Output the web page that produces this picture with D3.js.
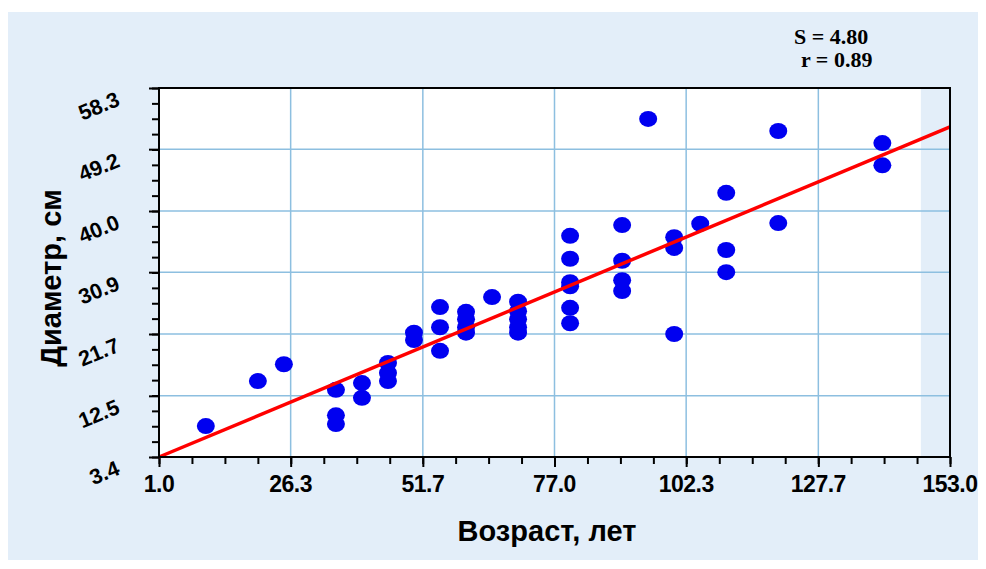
<!DOCTYPE html>
<html>
<head>
<meta charset="utf-8">
<script src="https://cdn.jsdelivr.net/npm/d3@7"></script>
<style>
  body { margin: 0; background: #fff; }
  svg { display: block; }
</style>
</head>
<body>
<svg id="chart" width="986" height="569"></svg>
<script>
const ages = [10, 20, 25, 35, 35, 35, 40, 40, 45, 45, 45, 50, 50, 55, 55, 55,
  60, 60, 60, 60, 65, 70, 70, 70, 70, 70, 80, 80, 80, 80, 80, 80,
  90, 90, 90, 90, 95, 100, 100, 100, 105, 110, 110, 110, 120, 120, 140, 140]
const diameters = [8.0, 14.7, 17.2, 13.4, 9.6, 8.3, 14.4, 12.2, 17.4, 15.9, 14.7, 21.9, 20.8, 25.7, 22.7, 19.2,
  25.0, 23.9, 22.7, 21.9, 27.2, 26.5, 25.1, 23.9, 22.7, 21.9, 36.3, 32.9, 29.4, 28.8, 25.6, 23.3,
  37.9, 32.6, 29.7, 28.1, 53.7, 36.1, 34.5, 21.7, 38.1, 42.7, 34.2, 30.9, 51.9, 38.2, 50.1, 46.8]

const fitX = [1.0, 153.0]
const fitY = [3.4, 52.5]

const xTickLabels = ['1.0', '26.3', '51.7', '77.0', '102.3', '127.7', '153.0']
const yTickLabels = ['3.4', '12.5', '21.7', '30.9', '40.0', '49.2', '58.3']
const stats = ['S = 4.80', 'r = 0.89']

const plotLeft = 159, plotRight = 950, plotTop = 88, plotBottom = 457

const xscale = d3.scaleLinear().domain([1.0, 153.0]).range([plotLeft, plotRight])
const yscale = d3.scaleLinear().domain([3.4, 58.3]).range([plotBottom, plotTop])

const xMajor = xTickLabels.map(Number)
const yMajor = yTickLabels.map(Number)
const xMinor = d3.range(25).map((i) => 1.0 + i * 152 / 24)
const yMinor = d3.range(25).map((i) => 3.4 + i * 54.9 / 24)

const svg = d3.select('#chart')

// background panel
svg.append('rect')
  .attr('x', 8).attr('y', 12)
  .attr('width', 970).attr('height', 548)
  .attr('fill', '#e3eef9')

// white plot area (stops short of the right edge like the original)
svg.append('rect')
  .attr('x', plotLeft).attr('y', plotTop)
  .attr('width', xscale(147.4) - plotLeft).attr('height', plotBottom - plotTop)
  .attr('fill', '#fff')

// grid
const grid = svg.append('g').attr('stroke', '#8dbfe0').attr('stroke-width', 1.5)
grid.selectAll('.vx')
  .data(xMajor.slice(1, -1))
  .enter().append('line')
  .attr('x1', (d) => xscale(d)).attr('x2', (d) => xscale(d))
  .attr('y1', plotTop).attr('y2', plotBottom)
grid.selectAll('.hy')
  .data(yMajor.slice(1, -1))
  .enter().append('line')
  .attr('x1', plotLeft).attr('x2', plotRight)
  .attr('y1', (d) => yscale(d)).attr('y2', (d) => yscale(d))

// ticks
const minorX = d3.axisBottom(xscale).tickValues(xMinor).tickSize(7).tickFormat('')
const majorX = d3.axisBottom(xscale).tickValues(xMajor).tickSize(10).tickFormat('')
const minorY = d3.axisLeft(yscale).tickValues(yMinor).tickSize(7).tickFormat('')
const majorY = d3.axisLeft(yscale).tickValues(yMajor).tickSize(10).tickFormat('')

for (const ax of [minorX, majorX]) {
  svg.append('g')
    .attr('transform', `translate(0, ${plotBottom})`)
    .call(ax)
    .call((g) => g.select('.domain').remove())
    .selectAll('line').attr('stroke', '#000').attr('stroke-width', 2)
}
for (const ax of [minorY, majorY]) {
  svg.append('g')
    .attr('transform', `translate(${plotLeft}, 0)`)
    .call(ax)
    .call((g) => g.select('.domain').remove())
    .selectAll('line').attr('stroke', '#000').attr('stroke-width', 2)
}

// tick labels
svg.append('g')
  .selectAll('text')
  .data(xTickLabels)
  .enter().append('text')
  .attr('x', (d) => xscale(+d))
  .attr('y', 492)
  .attr('text-anchor', 'middle')
  .attr('font-family', 'Liberation Sans, Arial, sans-serif')
  .attr('font-weight', 'bold')
  .attr('font-size', 23)
  .attr('letter-spacing', -0.5)
  .text((d) => d)

svg.append('g')
  .selectAll('text')
  .data(yTickLabels)
  .enter().append('text')
  .attr('transform', (d) => `translate(${plotLeft - 38}, ${yscale(+d) + 17}) rotate(-22)`)
  .attr('text-anchor', 'end')
  .attr('font-family', 'Liberation Sans, Arial, sans-serif')
  .attr('font-weight', 'bold')
  .attr('font-size', 21.5)
  .text((d) => d)

// points
svg.append('g')
  .selectAll('ellipse')
  .data(ages)
  .enter().append('ellipse')
  .attr('cx', (d) => xscale(d))
  .attr('cy', (d, i) => yscale(diameters[i]))
  .attr('rx', 9)
  .attr('ry', 8)
  .attr('fill', '#0000f0')

// regression line
const line = d3.line()
  .x((d) => xscale(d))
  .y((d, i) => yscale(fitY[i]))
svg.append('path')
  .datum(fitX)
  .attr('d', line)
  .attr('fill', 'none')
  .attr('stroke', '#ff0000')
  .attr('stroke-width', 3.5)

// frame
svg.append('rect')
  .attr('x', plotLeft).attr('y', plotTop)
  .attr('width', plotRight - plotLeft).attr('height', plotBottom - plotTop)
  .attr('fill', 'none')
  .attr('stroke', '#000')
  .attr('stroke-width', 2)

// stats
svg.append('g')
  .selectAll('text')
  .data(stats)
  .enter().append('text')
  .attr('x', (d, i) => 794 + i * 7)
  .attr('y', (d, i) => 44 + i * 23)
  .attr('font-family', 'Liberation Serif, Times New Roman, serif')
  .attr('font-weight', 'bold')
  .attr('font-size', 22)
  .text((d) => d)

// axis titles
svg.append('text')
  .text('Возраст, лет')
  .attr('x', 547)
  .attr('y', 541)
  .attr('text-anchor', 'middle')
  .attr('font-family', 'Liberation Sans, Arial, sans-serif')
  .attr('font-weight', 'bold')
  .attr('font-size', 29)

svg.append('text')
  .text('Диаметр, см')
  .attr('transform', `translate(61, 278) rotate(-90)`)
  .attr('text-anchor', 'middle')
  .attr('font-family', 'Liberation Sans, Arial, sans-serif')
  .attr('font-weight', 'bold')
  .attr('font-size', 29)
</script>
</body>
</html>
